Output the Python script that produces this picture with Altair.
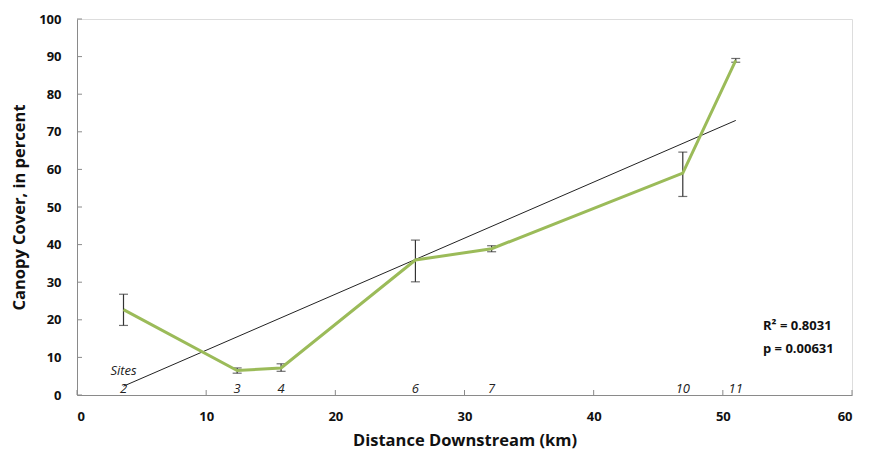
import altair as alt
import pandas as pd

sites = ["2", "3", "4", "6", "7", "10", "11"]
distance = [3.6, 12.4, 15.8, 26.2, 32.1, 46.9, 51.0]
canopy = [22.7, 6.5, 7.2, 35.9, 38.9, 59.0, 89.0]
err_low = [18.5, 5.8, 6.3, 30.1, 38.1, 52.8, 88.5]
err_high = [26.8, 7.2, 8.3, 41.2, 39.7, 64.6, 89.5]
x_ticks = [0, 10, 20, 30, 40, 50, 60]
y_ticks = [0, 10, 20, 30, 40, 50, 60, 70, 80, 90, 100]
stats = ["R\u00b2 = 0.8031", "p = 0.00631"]

W, H = 775, 376
FONT = "Open Sans"

df = pd.DataFrame({"site": sites, "dist": distance, "cover": canopy,
                   "lo": err_low, "hi": err_high})

xs = alt.Scale(domain=[0, 60], nice=False)
ys = alt.Scale(domain=[0, 100], nice=False)

xax = alt.Axis(values=x_ticks, tickSize=0, labelPadding=15, labelFont=FONT,
               labelFontWeight="bold", labelFontSize=13, labelColor="#111",
               title="Distance Downstream (km)", titleFont=FONT,
               titleFontSize=16.5, titleFontWeight="bold", titlePadding=9,
               titleColor="#111", domainColor="#8a8a8a", grid=False)
yax = alt.Axis(values=y_ticks, tickSize=0, labelPadding=16, labelFont=FONT,
               labelFontWeight="bold", labelFontSize=13, labelColor="#111",
               title="Canopy Cover, in percent", titleFont=FONT,
               titleFontSize=16.5, titleFontWeight="bold", titlePadding=11,
               titleColor="#111", domainColor="#8a8a8a", grid=False)

X = lambda f: alt.X(f, scale=xs, axis=xax, title="Distance Downstream (km)")
Y = lambda f: alt.Y(f, scale=ys, axis=yax, title="Canopy Cover, in percent")

base = alt.Chart(df)

line = base.mark_line(color="#9BBB59", strokeWidth=3).encode(
    x=X("dist:Q"), y=Y("cover:Q"))

trend = base.transform_regression("dist", "cover").mark_line(
    color="#222", strokeWidth=1).encode(x=X("dist:Q"), y=Y("cover:Q"))

err = base.mark_rule(color="#333", strokeWidth=1.2).encode(
    x=X("dist:Q"), y=Y("lo:Q"), y2="hi:Q")
cap_lo = base.mark_tick(color="#333", orient="horizontal", size=9,
                        thickness=1.2).encode(x=X("dist:Q"), y=Y("lo:Q"))
cap_hi = base.mark_tick(color="#333", orient="horizontal", size=9,
                        thickness=1.2).encode(x=X("dist:Q"), y=Y("hi:Q"))

site_lbl = base.mark_text(font=FONT, fontStyle="italic", fontSize=13,
                          baseline="bottom", color="#222").encode(
    x=X("dist:Q"), y=alt.value(H + 1), text="site:N")

sites_word = alt.Chart(pd.DataFrame({"dist": [distance[0]], "t": ["Sites"]})).mark_text(
    font=FONT, fontStyle="italic", fontSize=13, baseline="middle",
    color="#222").encode(x=X("dist:Q"), y=alt.value(H - 24), text="t:N")

xt = alt.Chart(pd.DataFrame({"dist": x_ticks})).mark_rule(
    color="#8a8a8a").encode(x=X("dist:Q"), y=alt.value(H), y2=alt.value(H - 5))
yt = alt.Chart(pd.DataFrame({"cover": y_ticks})).mark_rule(
    color="#8a8a8a").encode(y=Y("cover:Q"), x=alt.value(0), x2=alt.value(5))

stat1 = alt.Chart(pd.DataFrame({"t": [stats[0]]})).mark_text(
    font=FONT, fontWeight="bold", fontSize=13, align="left",
    baseline="middle", color="#111").encode(
    x=alt.value(686), y=alt.value(307), text="t:N")
stat2 = alt.Chart(pd.DataFrame({"t": [stats[1]]})).mark_text(
    font=FONT, fontWeight="bold", fontSize=13, align="left",
    baseline="middle", color="#111").encode(
    x=alt.value(686), y=alt.value(330), text="t:N")

chart = alt.layer(xt, yt, trend, err, cap_lo, cap_hi, line, site_lbl,
                  sites_word, stat1, stat2).properties(
    width=W, height=H,
    padding={"left": 77, "top": 19, "right": 17, "bottom": 60},
    autosize=alt.AutoSizeParams(type="none"),
).configure_view(stroke=None).configure_axis(grid=False).configure(background="white")

chart.save("out.html", embed_options={"renderer": "svg", "actions": False})
